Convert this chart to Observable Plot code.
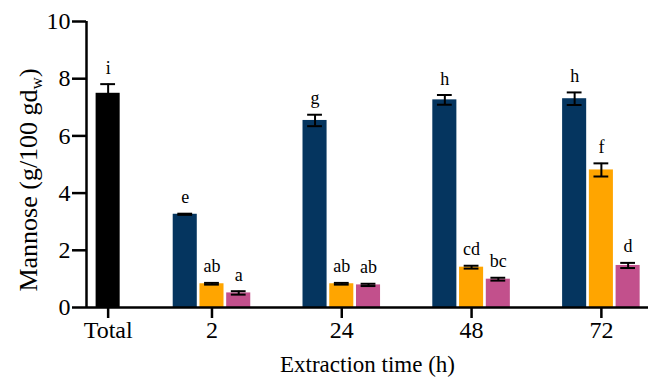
<!DOCTYPE html>
<html>
<head>
<meta charset="utf-8">
<script src="https://cdn.jsdelivr.net/npm/d3@7"></script>
<script src="https://cdn.jsdelivr.net/npm/@observablehq/plot@0.6"></script>
<style>
  html, body { margin: 0; padding: 0; background: #fff; }
  #chart { width: 648px; height: 382px; }
</style>
</head>
<body>
<div id="chart"></div>
<script>
// ---- data ----
const totalLabel = "Total";
const totalValue = 7.49;
const totalError = 0.32;
const totalLetter = "i";

const timeLabels = ["2", "24", "48", "72"];
const seriesNames = ["Series 1", "Series 2", "Series 3"];

const series1Values = [3.26, 6.54, 7.26, 7.30];
const series1Errors = [0.02, 0.20, 0.17, 0.22];
const series1Letters = ["e", "g", "h", "h"];

const series2Values = [0.83, 0.83, 1.41, 4.81];
const series2Errors = [0.03, 0.03, 0.05, 0.23];
const series2Letters = ["ab", "ab", "cd", "f"];

const series3Values = [0.51, 0.79, 0.99, 1.47];
const series3Errors = [0.06, 0.04, 0.05, 0.09];
const series3Letters = ["a", "ab", "bc", "d"];

const yTicks = [0, 2, 4, 6, 8, 10];
const xTitle = "Extraction time (h)";
const yTitleMain = "Mannose (g/100 gd";
const yTitleSub = "w";
const yTitleEnd = ")";

// ---- layout (group index units on a linear x scale) ----
const totalPos = -0.8;
const slot = 0.206;
const halfBar = 0.0927;
const capHalf = 0.057;
const xMin = totalPos - 0.1667;
const xMax = 3.363;

const colorRange = ["#000000", "#05355f", "#ffa500", "#c2508c"];
const colorDomain = [totalLabel, ...seriesNames];

const bars = [{series: totalLabel, pos: totalPos, value: totalValue, err: totalError, letter: totalLetter}];
const sv = [series1Values, series2Values, series3Values];
const se = [series1Errors, series2Errors, series3Errors];
const sl = [series1Letters, series2Letters, series3Letters];
timeLabels.forEach((t, i) => {
  seriesNames.forEach((s, k) => {
    bars.push({series: s, pos: i + (k - 1) * slot, value: sv[k][i], err: se[k][i], letter: sl[k][i]});
  });
});

const tickPositions = [totalPos, ...timeLabels.map((t, i) => i)];
const tickText = [totalLabel, ...timeLabels];
const fmt = v => { const j = tickPositions.findIndex(p => Math.abs(p - v) < 1e-9); return j >= 0 ? tickText[j] : ""; };

const font = "'Liberation Serif', 'Times New Roman', serif";

const chart = Plot.plot({
  width: 648,
  height: 382,
  marginLeft: 86,
  marginRight: 0,
  marginTop: 21,
  marginBottom: 75,
  style: {fontFamily: font, background: "#fff", color: "#000"},
  x: {domain: [xMin, xMax], axis: null},
  y: {domain: [0, 10], axis: null},
  color: {domain: colorDomain, range: colorRange},
  marks: [
    Plot.rectY(bars, {x1: d => d.pos - halfBar, x2: d => d.pos + halfBar, y: "value", fill: "series"}),
    Plot.ruleX(bars, {x: "pos", y1: d => d.value - d.err, y2: d => d.value + d.err, stroke: "#000", strokeWidth: 2}),
    Plot.ruleY(bars, {y: d => d.value + d.err, x1: d => d.pos - capHalf, x2: d => d.pos + capHalf, stroke: "#000", strokeWidth: 2}),
    Plot.ruleY(bars, {y: d => d.value - d.err, x1: d => d.pos - capHalf, x2: d => d.pos + capHalf, stroke: "#000", strokeWidth: 2}),
    Plot.text(bars, {x: "pos", y: d => d.value + d.err, text: "letter", dy: -10.5, lineAnchor: "bottom", fontSize: 18, fill: "#000"}),
    Plot.axisY({ticks: yTicks, tickSize: 14, tickPadding: 2, fontSize: 24, strokeWidth: 2.5, label: null}),
    Plot.axisX({ticks: tickPositions, tickFormat: fmt, tickSize: 11, tickPadding: 2, fontSize: 24, strokeWidth: 2.5, label: null}),
    Plot.ruleX([xMin], {stroke: "#000", strokeWidth: 2.5}),
    Plot.ruleY([0], {stroke: "#000", strokeWidth: 2.5}),
    Plot.text([xTitle], {text: d => d, frameAnchor: "bottom", dy: 64, fontSize: 23, fill: "#000"})
  ]
});

// y-axis title with subscript
const svg = d3.select(chart);
const yt = svg.append("text")
  .attr("transform", "translate(36.5,180) rotate(-90)")
  .attr("text-anchor", "middle")
  .attr("font-size", 26)
  .attr("font-family", font)
  .attr("fill", "#000");
yt.append("tspan").text(yTitleMain);
yt.append("tspan").attr("font-size", 17).attr("dy", 5).text(yTitleSub);
yt.append("tspan").attr("dy", -5).text(yTitleEnd);

document.getElementById("chart").appendChild(chart);
</script>
</body>
</html>
